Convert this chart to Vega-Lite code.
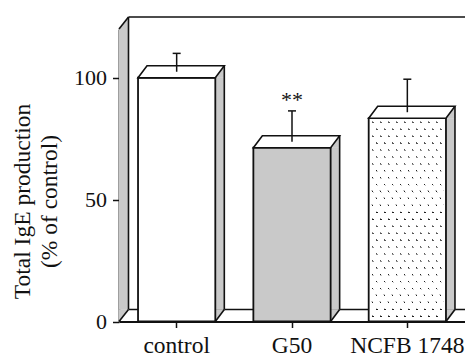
{
  "$schema": "https://vega.github.io/schema/vega-lite/v6.json",
  "width": 346,
  "height": 292.5,
  "autosize": {"type": "none"},
  "padding": {"left": 119, "top": 29, "right": 0, "bottom": 34.5},
  "background": "white",
  "config": {"view": {"stroke": null}},
  "data": {"values": [
    {"group": "control", "value": 100, "upper": 110, "sig": ""},
    {"group": "G50", "value": 71.3, "upper": 86.4, "sig": "**"},
    {"group": "NCFB 1748", "value": 83.4, "upper": 99.4, "sig": ""}
  ]},
  "resolve": {"scale": {"x": "independent"}},
  "layer": [
    {
      "data": {"values": [{}]},
      "layer": [
        {
          "mark": {"type": "rule", "stroke": "#111111", "strokeWidth": 1.6, "xOffset": 9.5, "yOffset": -12},
          "encoding": {
            "x": {"datum": 0, "type": "quantitative", "scale": {"domain": [0, 1], "nice": false, "zero": false}, "axis": null},
            "x2": {"datum": 1},
            "y": {"datum": 0, "type": "quantitative", "scale": {"domain": [0, 120], "nice": false},
              "axis": {"values": [0, 50, 100], "title": ["Total IgE production", "(% of control)"],
                "titleFont": "Liberation Serif", "titleFontSize": 23.5, "titleFontWeight": "normal", "titleColor": "#111111",
                "titleX": -89.5, "titleY": 172, "titleAngle": -90, "titleAlign": "center", "titleBaseline": "alphabetic", "titleLineHeight": 27,
                "labelFont": "Liberation Serif", "labelFontSize": 22, "labelColor": "#111111", "labelPadding": 6,
                "tickSize": 6.5, "tickWidth": 1.5, "tickColor": "#111111", "domainColor": "#111111", "domainWidth": 1.8, "grid": false}}
          }
        },
        {
          "mark": {"type": "rule", "stroke": "#111111", "strokeWidth": 1.6, "xOffset": 9.5, "yOffset": -12},
          "encoding": {"x": {"datum": 0, "type": "quantitative", "axis": null}, "x2": {"datum": 1}, "y": {"datum": 120, "type": "quantitative"}}
        },
        {
          "mark": {"type": "rule", "stroke": "#c9c9c9", "strokeWidth": 9.5, "strokeCap": "butt", "xOffset": 4.75, "y2Offset": -12},
          "encoding": {"x": {"datum": 0, "type": "quantitative", "axis": null}, "y": {"datum": 120, "type": "quantitative"}, "y2": {"datum": 0}}
        },
        {
          "mark": {"type": "point", "shape": "M0,0L9.5,-12L9.5,0Z", "size": 4, "filled": true, "fill": "#c9c9c9", "stroke": "#c9c9c9", "strokeWidth": 0.5, "opacity": 1},
          "encoding": {"x": {"datum": 0, "type": "quantitative", "axis": null}, "y": {"datum": 120, "type": "quantitative"}}
        },
        {
          "mark": {"type": "point", "shape": "M0,-12L0,0L9.5,-12Z", "size": 4, "filled": true, "fill": "#c9c9c9", "stroke": "#c9c9c9", "strokeWidth": 0.5, "opacity": 1},
          "encoding": {"x": {"datum": 0, "type": "quantitative", "axis": null}, "y": {"datum": 0, "type": "quantitative"}}
        },
        {
          "mark": {"type": "rule", "stroke": "#111111", "strokeWidth": 1.6, "xOffset": 9.5, "yOffset": -12, "y2Offset": -12},
          "encoding": {"x": {"datum": 0, "type": "quantitative", "axis": null}, "y": {"datum": 120, "type": "quantitative"}, "y2": {"datum": 0}}
        },
        {
          "mark": {"type": "point", "shape": "M0,0L9.5,-12", "size": 4, "filled": false, "fill": "transparent", "stroke": "#111111", "strokeWidth": 1.6, "opacity": 1},
          "encoding": {"x": {"datum": 0, "type": "quantitative", "axis": null}, "y": {"datum": 120, "type": "quantitative"}}
        },
        {
          "mark": {"type": "point", "shape": "M0,0L9.5,-12", "size": 4, "filled": false, "fill": "transparent", "stroke": "#111111", "strokeWidth": 1.6, "opacity": 1},
          "encoding": {"x": {"datum": 0, "type": "quantitative", "axis": null}, "y": {"datum": 0, "type": "quantitative"}}
        }
      ]
    },
    {
      "layer": [
        {
          "mark": {"type": "rule", "stroke": "#c9c9c9", "strokeWidth": 9, "strokeCap": "butt", "xOffset": 43.14, "y2Offset": -12},
          "encoding": {"x": {"field": "group", "type": "nominal"}, "y": {"field": "value", "type": "quantitative"}, "y2": {"datum": 0}}
        },
        {
          "mark": {"type": "point", "shape": "M0,0L9,-12L9,0Z", "size": 4, "filled": true, "fill": "#c9c9c9", "stroke": "#c9c9c9", "strokeWidth": 0.5, "opacity": 1, "xOffset": 38.64},
          "encoding": {"x": {"field": "group", "type": "nominal"}, "y": {"field": "value", "type": "quantitative"}}
        },
        {
          "mark": {"type": "point", "shape": "M0,-12L0,0L9,-12Z", "size": 4, "filled": true, "fill": "#c9c9c9", "stroke": "#c9c9c9", "strokeWidth": 0.5, "opacity": 1, "xOffset": 38.64},
          "encoding": {"x": {"field": "group", "type": "nominal"}, "y": {"datum": 0, "type": "quantitative"}}
        },
        {
          "mark": {"type": "bar", "strokeWidth": 0},
          "encoding": {
            "x": {"field": "group", "type": "nominal",
              "scale": {"domain": ["control", "G50", "NCFB 1748"], "paddingInner": 0.33, "paddingOuter": 0.165},
              "axis": {"title": null, "labelFont": "Liberation Serif", "labelFontSize": 23.5, "labelColor": "#111111", "labelAngle": 0,
                "labelAlign": "center", "labelBaseline": "alphabetic", "labelPadding": 24.5, "tickSize": 6, "tickWidth": 1.5, "tickColor": "#111111",
                "domainColor": "#111111", "domainWidth": 1.8, "grid": false}},
            "y": {"field": "value", "type": "quantitative"},
            "y2": {"datum": 0},
            "color": {"field": "group", "type": "nominal", "scale": {"domain": ["control", "G50", "NCFB 1748"], "range": ["#ffffff", "#c9c9c9", "#ffffff"]}, "legend": null}
          }
        },
        {
          "transform": [{"filter": "datum.group === 'NCFB 1748'"}],
          "mark": {"type": "rule", "stroke": "#222222", "strokeWidth": 73, "strokeCap": "butt", "strokeDash": [1.3, 5.63], "strokeDashOffset": 3.58},
          "encoding": {"x": {"field": "group", "type": "nominal"}, "y": {"field": "value", "type": "quantitative"}, "y2": {"datum": 0}}
        },
        {
          "transform": [{"filter": "datum.group === 'NCFB 1748'"}],
          "mark": {"type": "bar", "strokeWidth": 0, "fill": {"gradient": "linear", "x1": 0, "y1": 1, "x2": 0.76182, "y2": -0.15686, "stops": [
            {"offset": 0, "color": "#ffffff"},
            {"offset": 0.03253, "color": "#ffffff"}, {"offset": 0.03253, "color": "rgba(255,255,255,0)"}, {"offset": 0.03973, "color": "rgba(255,255,255,0)"}, {"offset": 0.03973, "color": "#ffffff"},
            {"offset": 0.07364, "color": "#ffffff"}, {"offset": 0.07364, "color": "rgba(255,255,255,0)"}, {"offset": 0.08084, "color": "rgba(255,255,255,0)"}, {"offset": 0.08084, "color": "#ffffff"},
            {"offset": 0.11474, "color": "#ffffff"}, {"offset": 0.11474, "color": "rgba(255,255,255,0)"}, {"offset": 0.12194, "color": "rgba(255,255,255,0)"}, {"offset": 0.12194, "color": "#ffffff"},
            {"offset": 0.15585, "color": "#ffffff"}, {"offset": 0.15585, "color": "rgba(255,255,255,0)"}, {"offset": 0.16305, "color": "rgba(255,255,255,0)"}, {"offset": 0.16305, "color": "#ffffff"},
            {"offset": 0.19696, "color": "#ffffff"}, {"offset": 0.19696, "color": "rgba(255,255,255,0)"}, {"offset": 0.20416, "color": "rgba(255,255,255,0)"}, {"offset": 0.20416, "color": "#ffffff"},
            {"offset": 0.23806, "color": "#ffffff"}, {"offset": 0.23806, "color": "rgba(255,255,255,0)"}, {"offset": 0.24526, "color": "rgba(255,255,255,0)"}, {"offset": 0.24526, "color": "#ffffff"},
            {"offset": 0.27917, "color": "#ffffff"}, {"offset": 0.27917, "color": "rgba(255,255,255,0)"}, {"offset": 0.28637, "color": "rgba(255,255,255,0)"}, {"offset": 0.28637, "color": "#ffffff"},
            {"offset": 0.32028, "color": "#ffffff"}, {"offset": 0.32028, "color": "rgba(255,255,255,0)"}, {"offset": 0.32748, "color": "rgba(255,255,255,0)"}, {"offset": 0.32748, "color": "#ffffff"},
            {"offset": 0.36139, "color": "#ffffff"}, {"offset": 0.36139, "color": "rgba(255,255,255,0)"}, {"offset": 0.36859, "color": "rgba(255,255,255,0)"}, {"offset": 0.36859, "color": "#ffffff"},
            {"offset": 0.40249, "color": "#ffffff"}, {"offset": 0.40249, "color": "rgba(255,255,255,0)"}, {"offset": 0.40969, "color": "rgba(255,255,255,0)"}, {"offset": 0.40969, "color": "#ffffff"},
            {"offset": 0.4436, "color": "#ffffff"}, {"offset": 0.4436, "color": "rgba(255,255,255,0)"}, {"offset": 0.4508, "color": "rgba(255,255,255,0)"}, {"offset": 0.4508, "color": "#ffffff"},
            {"offset": 0.48471, "color": "#ffffff"}, {"offset": 0.48471, "color": "rgba(255,255,255,0)"}, {"offset": 0.49191, "color": "rgba(255,255,255,0)"}, {"offset": 0.49191, "color": "#ffffff"},
            {"offset": 0.52581, "color": "#ffffff"}, {"offset": 0.52581, "color": "rgba(255,255,255,0)"}, {"offset": 0.53301, "color": "rgba(255,255,255,0)"}, {"offset": 0.53301, "color": "#ffffff"},
            {"offset": 0.56692, "color": "#ffffff"}, {"offset": 0.56692, "color": "rgba(255,255,255,0)"}, {"offset": 0.57412, "color": "rgba(255,255,255,0)"}, {"offset": 0.57412, "color": "#ffffff"},
            {"offset": 0.60803, "color": "#ffffff"}, {"offset": 0.60803, "color": "rgba(255,255,255,0)"}, {"offset": 0.61523, "color": "rgba(255,255,255,0)"}, {"offset": 0.61523, "color": "#ffffff"},
            {"offset": 0.64914, "color": "#ffffff"}, {"offset": 0.64914, "color": "rgba(255,255,255,0)"}, {"offset": 0.65634, "color": "rgba(255,255,255,0)"}, {"offset": 0.65634, "color": "#ffffff"},
            {"offset": 0.69024, "color": "#ffffff"}, {"offset": 0.69024, "color": "rgba(255,255,255,0)"}, {"offset": 0.69744, "color": "rgba(255,255,255,0)"}, {"offset": 0.69744, "color": "#ffffff"},
            {"offset": 0.73135, "color": "#ffffff"}, {"offset": 0.73135, "color": "rgba(255,255,255,0)"}, {"offset": 0.73855, "color": "rgba(255,255,255,0)"}, {"offset": 0.73855, "color": "#ffffff"},
            {"offset": 0.77246, "color": "#ffffff"}, {"offset": 0.77246, "color": "rgba(255,255,255,0)"}, {"offset": 0.77966, "color": "rgba(255,255,255,0)"}, {"offset": 0.77966, "color": "#ffffff"},
            {"offset": 0.81356, "color": "#ffffff"}, {"offset": 0.81356, "color": "rgba(255,255,255,0)"}, {"offset": 0.82076, "color": "rgba(255,255,255,0)"}, {"offset": 0.82076, "color": "#ffffff"},
            {"offset": 0.85467, "color": "#ffffff"}, {"offset": 0.85467, "color": "rgba(255,255,255,0)"}, {"offset": 0.86187, "color": "rgba(255,255,255,0)"}, {"offset": 0.86187, "color": "#ffffff"},
            {"offset": 0.89578, "color": "#ffffff"}, {"offset": 0.89578, "color": "rgba(255,255,255,0)"}, {"offset": 0.90298, "color": "rgba(255,255,255,0)"}, {"offset": 0.90298, "color": "#ffffff"},
            {"offset": 0.93688, "color": "#ffffff"}, {"offset": 0.93688, "color": "rgba(255,255,255,0)"}, {"offset": 0.94408, "color": "rgba(255,255,255,0)"}, {"offset": 0.94408, "color": "#ffffff"},
            {"offset": 0.97799, "color": "#ffffff"}, {"offset": 0.97799, "color": "rgba(255,255,255,0)"}, {"offset": 0.98519, "color": "rgba(255,255,255,0)"}, {"offset": 0.98519, "color": "#ffffff"},
            {"offset": 1, "color": "#ffffff"}
          ]}},
          "encoding": {"x": {"field": "group", "type": "nominal"}, "y": {"field": "value", "type": "quantitative"}, "y2": {"datum": 0}}
        },
        {
          "mark": {"type": "bar", "fill": "transparent", "stroke": "#111111", "strokeWidth": 1.8},
          "encoding": {"x": {"field": "group", "type": "nominal"}, "y": {"field": "value", "type": "quantitative"}, "y2": {"datum": 0}}
        },
        {
          "mark": {"type": "point", "shape": "M-38.64,0L38.64,0L47.64,-12L-29.64,-12Z", "size": 4, "filled": true, "fill": "#ffffff", "stroke": "#111111", "strokeWidth": 1.6, "opacity": 1},
          "encoding": {"x": {"field": "group", "type": "nominal"}, "y": {"field": "value", "type": "quantitative"}}
        },
        {
          "mark": {"type": "rule", "stroke": "#111111", "strokeWidth": 1.6, "xOffset": 47.64, "yOffset": -12, "y2Offset": -12},
          "encoding": {"x": {"field": "group", "type": "nominal"}, "y": {"field": "value", "type": "quantitative"}, "y2": {"datum": 0}}
        },
        {
          "mark": {"type": "point", "shape": "M0,0L9,-12", "size": 4, "filled": false, "fill": "transparent", "stroke": "#111111", "strokeWidth": 1.6, "opacity": 1, "xOffset": 38.64},
          "encoding": {"x": {"field": "group", "type": "nominal"}, "y": {"datum": 0, "type": "quantitative"}}
        },
        {
          "mark": {"type": "rule", "stroke": "#111111", "strokeWidth": 1.5, "yOffset": -6},
          "encoding": {"x": {"field": "group", "type": "nominal"}, "y": {"field": "value", "type": "quantitative"}, "y2": {"field": "upper"}}
        },
        {
          "mark": {"type": "tick", "color": "#111111", "size": 8, "thickness": 1.5, "orient": "horizontal", "opacity": 1},
          "encoding": {"x": {"field": "group", "type": "nominal"}, "y": {"field": "upper", "type": "quantitative"}}
        },
        {
          "mark": {"type": "text", "font": "Liberation Serif", "fontSize": 22, "dy": -4, "baseline": "alphabetic", "align": "center", "color": "#111111"},
          "encoding": {"x": {"field": "group", "type": "nominal"}, "y": {"field": "upper", "type": "quantitative"}, "text": {"field": "sig"}}
        }
      ]
    }
  ]
}
